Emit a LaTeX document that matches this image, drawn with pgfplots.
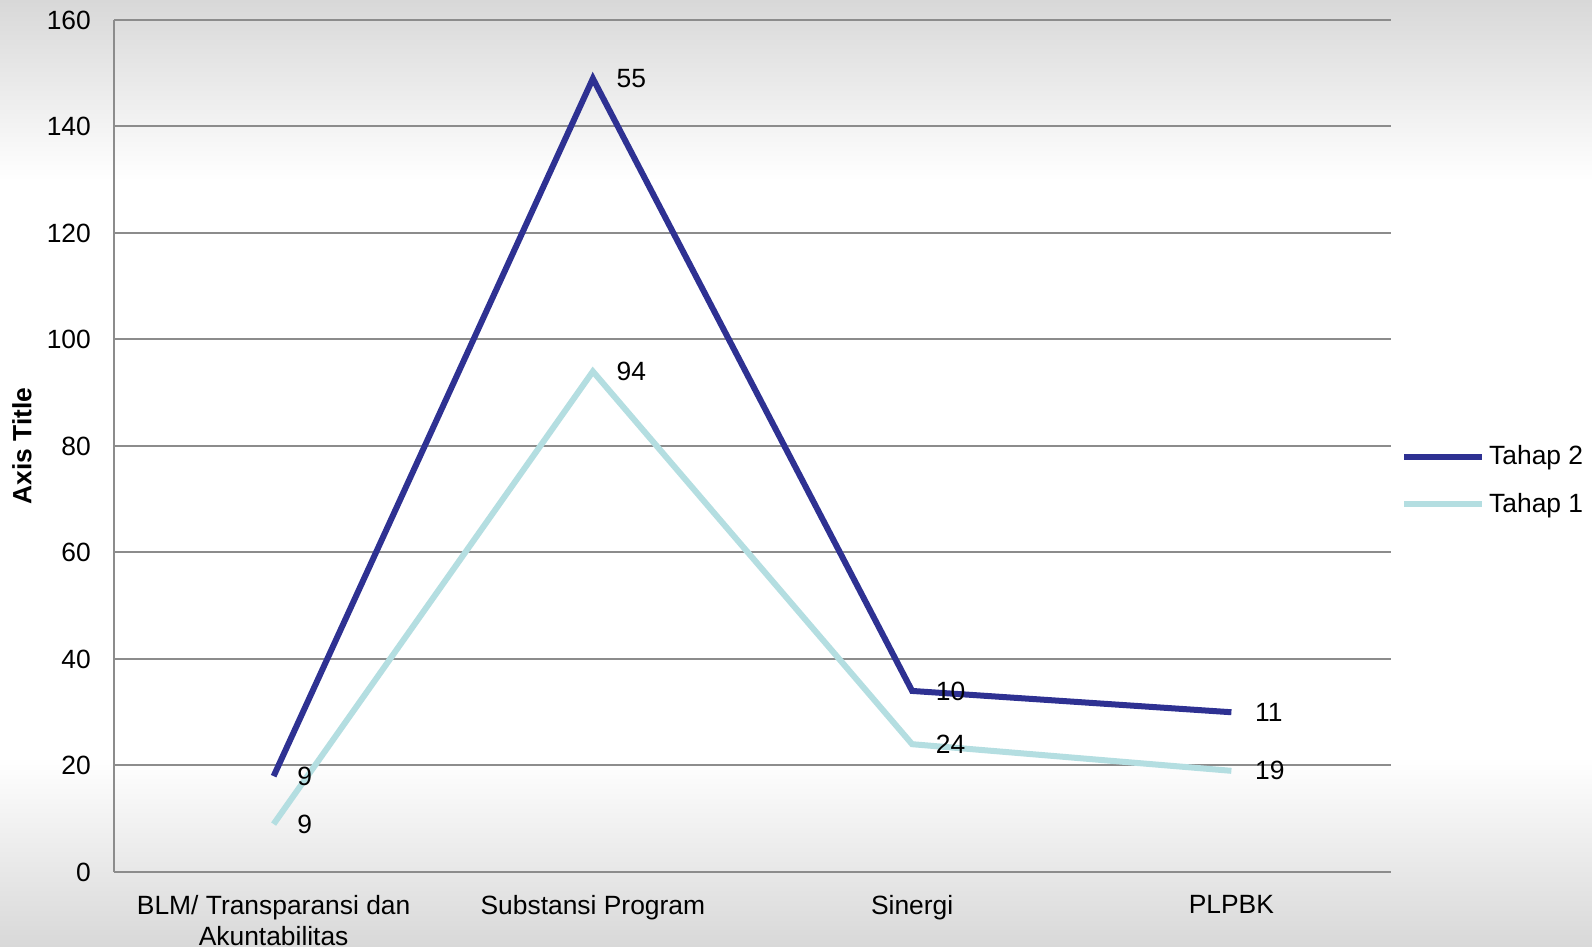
\documentclass[border=0pt]{standalone}
\usepackage{fontspec}
\setmainfont{Liberation Sans}
\usepackage{pgfplots}
\pgfplotsset{compat=1.18}
\definecolor{navyc}{HTML}{2E3192}
\definecolor{tealc}{HTML}{B4DEE1}
\definecolor{gridc}{HTML}{8C8C8C}
\definecolor{bgg}{HTML}{D8D8D8}
\begin{document}
\fontsize{13.2bp}{15.5bp}\selectfont
\begin{tikzpicture}
\fill[white] (0,0) rectangle (796bp,473.5bp);
\shade[top color=bgg, bottom color=white] (0,383bp) rectangle (796bp,473.5bp);
\shade[top color=white, bottom color=bgg] (0,0) rectangle (796bp,95bp);
\begin{axis}[
  at={(57bp,37.5bp)}, anchor=south west, scale only axis,
  width=638.5bp, height=426bp,
  xmin=-0.5, xmax=3.5, ymin=0, ymax=160,
  ytick={0,20,...,160},
  xtick={0,1,2,3},
  xticklabels={{BLM/ Transparansi dan\\Akuntabilitas},{Substansi Program},{Sinergi},{PLPBK}},
  xticklabel style={align=center, yshift=-7bp},
  yticklabel style={xshift=-7bp},
  /pgf/number format/assume math mode=true,
  axis x line*=bottom, axis y line*=left,
  major tick length=0,
  ymajorgrids, grid style={gridc, line width=1bp},
  axis line style={gridc, line width=1bp},
  ylabel={\textbf{Axis Title}},
  ylabel style={at={(axis description cs:-0.072,0.5)}, anchor=center},
  stack plots=y,
  nodes near coords, point meta=rawy,
  nodes near coords style={anchor=west, xshift=6bp, text=black},
  reverse legend,
  legend cell align=left,
  legend style={at={(1.003,0.459)}, anchor=west, draw=none, fill=none, row sep=8bp},
  legend image code/.code={\draw[#1, line width=3bp] (0bp,0bp) -- (39bp,0bp);},
]
\addplot[tealc, line width=3bp, mark=none] coordinates {(0,9) (1,94) (2,24) (3,19)};
\addlegendentry{Tahap 1}
\addplot[navyc, line width=3bp, mark=none] coordinates {(0,9) (1,55) (2,10) (3,11)};
\addlegendentry{Tahap 2}
\end{axis}
\pgfresetboundingbox
\path[use as bounding box] (0,0) rectangle (796bp,473.5bp);
\end{tikzpicture}
\end{document}
